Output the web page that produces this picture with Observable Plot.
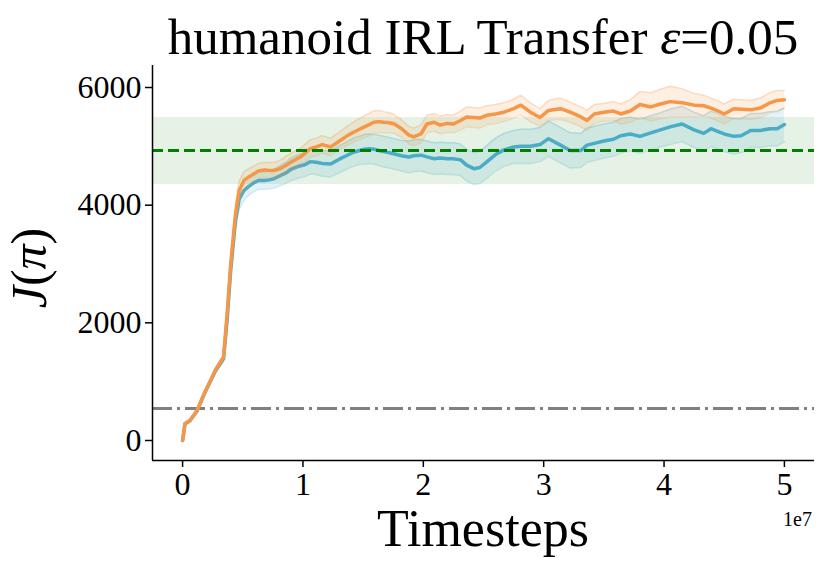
<!DOCTYPE html>
<html>
<head>
<meta charset="utf-8">
<script src="https://cdn.jsdelivr.net/npm/d3@7"></script>
<script src="https://cdn.jsdelivr.net/npm/@observablehq/plot@0.6"></script>
<style>
  html, body { margin: 0; padding: 0; background: #fff; }
  #chart svg { display: block; }
</style>
</head>
<body>
<div id="chart"></div>
<script>
// Timesteps in units of 1e7
const steps = [0, 0.02, 0.06, 0.12, 0.18, 0.27, 0.34, 0.37, 0.40, 0.44, 0.47, 0.51, 0.55, 0.59, 0.63, 0.68, 0.72, 0.76, 0.81, 0.86, 0.90, 0.95, 0.98, 1.02, 1.06, 1.11, 1.16, 1.23, 1.31, 1.36, 1.42, 1.47, 1.51, 1.55, 1.59, 1.63, 1.67, 1.72, 1.76, 1.82, 1.88, 1.92, 1.98, 2.03, 2.09, 2.14, 2.20, 2.25, 2.31, 2.36, 2.42, 2.47, 2.53, 2.60, 2.67, 2.75, 2.81, 2.89, 2.97, 3.04, 3.14, 3.22, 3.31, 3.36, 3.42, 3.50, 3.58, 3.64, 3.72, 3.80, 3.89, 3.97, 4.05, 4.15, 4.25, 4.33, 4.39, 4.45, 4.50, 4.58, 4.64, 4.72, 4.80, 4.88, 4.94, 5.0];

// Blue series: mean return and std
const blueMean = [0, 280, 330, 500, 790, 1170, 1390, 2050, 2900, 3750, 4100, 4250, 4320, 4380, 4420, 4420, 4430, 4450, 4500, 4550, 4610, 4650, 4670, 4690, 4740, 4730, 4710, 4700, 4790, 4840, 4900, 4930, 4950, 4960, 4950, 4930, 4910, 4890, 4870, 4840, 4820, 4840, 4850, 4820, 4790, 4800, 4790, 4790, 4770, 4680, 4620, 4640, 4740, 4860, 4940, 4990, 5000, 5000, 5030, 5130, 5020, 4930, 4930, 5020, 5050, 5090, 5120, 5180, 5210, 5170, 5230, 5280, 5330, 5380, 5280, 5220, 5300, 5250, 5210, 5170, 5180, 5270, 5270, 5300, 5300, 5370];
const blueStd = [10, 15, 15, 20, 20, 25, 40, 80, 130, 170, 170, 160, 150, 150, 150, 150, 150, 160, 170, 180, 190, 200, 200, 200, 210, 210, 220, 220, 230, 230, 240, 240, 250, 250, 250, 260, 260, 260, 260, 260, 270, 270, 270, 270, 270, 270, 270, 270, 270, 270, 270, 270, 280, 280, 280, 280, 290, 290, 290, 300, 300, 300, 290, 290, 290, 290, 290, 290, 290, 290, 290, 290, 300, 300, 300, 300, 300, 300, 300, 300, 290, 290, 290, 290, 290, 290];

// Orange series: mean return and std
const orangeMean = [0, 290, 340, 510, 800, 1190, 1420, 2160, 3010, 3860, 4250, 4420, 4480, 4530, 4580, 4600, 4590, 4590, 4620, 4680, 4730, 4790, 4820, 4890, 4960, 4990, 5030, 4990, 5100, 5170, 5240, 5290, 5330, 5370, 5410, 5420, 5410, 5400, 5380, 5300, 5190, 5160, 5210, 5380, 5410, 5360, 5390, 5380, 5440, 5500, 5490, 5480, 5530, 5550, 5580, 5640, 5700, 5580, 5490, 5610, 5640, 5580, 5500, 5440, 5550, 5580, 5600, 5550, 5600, 5710, 5670, 5720, 5760, 5740, 5700, 5690, 5650, 5600, 5550, 5640, 5630, 5620, 5650, 5740, 5780, 5790];
const orangeStd = [10, 15, 15, 20, 20, 25, 30, 60, 100, 150, 160, 150, 140, 130, 130, 130, 130, 140, 140, 150, 150, 150, 150, 150, 150, 150, 150, 150, 150, 160, 170, 180, 190, 190, 190, 190, 180, 170, 160, 150, 150, 150, 150, 150, 150, 150, 150, 150, 160, 170, 170, 170, 160, 160, 160, 160, 170, 160, 150, 170, 180, 170, 170, 170, 160, 150, 160, 170, 190, 220, 240, 250, 260, 240, 200, 180, 170, 170, 170, 160, 160, 160, 170, 170, 170, 160];

// Reference levels
const expertMean = 4928;
const expertBand = [4350, 5490];
const randomScore = 544;

// Axes
const xDomain = [-0.25, 5.25];
const yDomain = [-340, 6374];
const xTicks = [0, 1, 2, 3, 4, 5];
const yTicks = [0, 2000, 4000, 6000];

const blueColor = "#4bacc6";
const orangeColor = "#f79646";
const serif = "'Liberation Serif', 'DejaVu Serif', serif";

function rowsOf(mean, sd) {
  return steps.map((x, i) => ({x, mean: mean[i], lo: mean[i] - sd[i], hi: mean[i] + sd[i]}));
}
const blueRows = rowsOf(blueMean, blueStd);
const orangeRows = rowsOf(orangeMean, orangeStd);

function bandMarks(rows, color) {
  return [
    Plot.areaY(rows, {x: "x", y1: "lo", y2: "hi", fill: color, fillOpacity: 0.15}),
    Plot.lineY(rows, {x: "x", y: "lo", stroke: color, strokeOpacity: 0.25, strokeWidth: 1.5}),
    Plot.lineY(rows, {x: "x", y: "hi", stroke: color, strokeOpacity: 0.25, strokeWidth: 1.5})
  ];
}

const chart = Plot.plot({
  width: 830,
  height: 577,
  marginLeft: 152,
  marginRight: 16,
  marginTop: 65,
  marginBottom: 117,
  style: {fontFamily: serif, fontSize: "32px", color: "#000", background: "#fff", overflow: "visible"},
  x: {domain: xDomain, label: null},
  y: {domain: yDomain, label: null},
  marks: [
    Plot.rect([expertBand], {x1: () => xDomain[0], x2: () => xDomain[1], y1: d => d[0], y2: d => d[1], fill: "green", fillOpacity: 0.1}),
    Plot.ruleY([randomScore], {stroke: "#808080", strokeWidth: 3, strokeDasharray: "20,5,3,5"}),
    ...bandMarks(blueRows, blueColor),
    Plot.lineY(blueRows, {x: "x", y: "mean", stroke: blueColor, strokeWidth: 3.5}),
    ...bandMarks(orangeRows, orangeColor),
    Plot.lineY(orangeRows, {x: "x", y: "mean", stroke: orangeColor, strokeWidth: 3.5}),
    Plot.ruleY([expertMean], {stroke: "green", strokeWidth: 3, strokeDasharray: "11,5"}),
    Plot.axisX({ticks: xTicks, tickSize: 7, tickPadding: 5, strokeWidth: 1.5, tickFormat: d => String(d), fontSize: 32, label: null}),
    Plot.axisY({ticks: yTicks, tickSize: 7, tickPadding: 4, strokeWidth: 1.5, tickFormat: d => String(d), fontSize: 32, label: null}),
    Plot.ruleX([xDomain[0]], {stroke: "#000", strokeWidth: 1.5}),
    Plot.ruleY([yDomain[0]], {stroke: "#000", strokeWidth: 1.5})
  ]
});

document.getElementById("chart").appendChild(chart);

// Title and axis labels
const svg = d3.select(chart);
const title = svg.append("text")
  .attr("x", 483).attr("y", 54)
  .attr("text-anchor", "middle")
  .style("font-family", serif).style("font-size", "51px").attr("fill", "#000");
title.append("tspan").text("humanoid IRL Transfer ");
title.append("tspan").style("font-style", "italic").text("ε");
title.append("tspan").text("=0.05");

svg.append("text")
  .attr("x", 483).attr("y", 546)
  .attr("text-anchor", "middle")
  .style("font-family", serif).style("font-size", "52px").attr("fill", "#000")
  .text("Timesteps");

svg.append("text")
  .attr("x", 812).attr("y", 526)
  .attr("text-anchor", "end")
  .style("font-family", serif).style("font-size", "20px").attr("fill", "#000")
  .text("1e7");

const ylab = svg.append("text")
  .attr("transform", "translate(46,268) rotate(-90)")
  .attr("text-anchor", "middle")
  .style("font-family", serif).style("font-size", "50px").attr("fill", "#000");
ylab.append("tspan").style("font-style", "italic").text("J");
ylab.append("tspan").text("(");
ylab.append("tspan").style("font-style", "italic").text("π");
ylab.append("tspan").text(")");
</script>
</body>
</html>
